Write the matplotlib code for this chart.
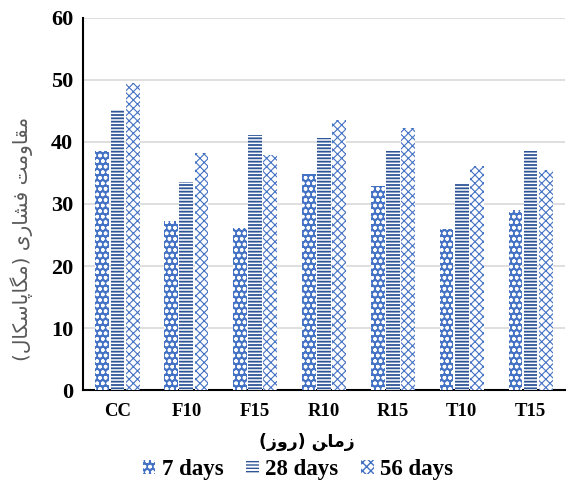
import numpy as np
import matplotlib
matplotlib.use('Agg')
import matplotlib.pyplot as plt

plt.rcParams['font.family'] = ['Liberation Serif', 'DejaVu Sans']
plt.rcParams['font.weight'] = 'bold'

categories = ['CC', 'F10', 'F15', 'R10', 'R15', 'T10', 'T15']
days_7 = [38.6, 27.3, 26.2, 34.9, 32.9, 25.9, 29.0]
days_28 = [45.2, 33.5, 41.2, 40.6, 38.5, 33.2, 38.5]
days_56 = [49.5, 38.2, 37.9, 43.5, 42.3, 36.2, 35.5]
series_names = ['7 days', '28 days', '56 days']

# persian labels in visual order (presentation forms, no shaping in matplotlib)
xlabel_fa = '(ﺯﻭﺭ) ﻦﺎﻣﺯ'
ylabel_fa = '(ﻝﺎﮑﺳﺎﭘﺎﮕﻣ) ﯼﺭﺎﺸﻓ ﺖﻣﻭﺎﻘﻣ'

fig = plt.figure(figsize=(5.69, 4.86), dpi=100)
ax = fig.add_axes([0.146, 0.1975, 0.847, 0.7655])

x = np.arange(len(categories))
w = 0.2
off = 0.22
with plt.rc_context({'hatch.linewidth': 1.0}):
    ax.bar(x - off, days_7, w, facecolor='#4472C4', edgecolor='white', hatch='ooo',
           linewidth=0, label=series_names[0], zorder=3)
with plt.rc_context({'hatch.linewidth': 1.3}):
    ax.bar(x, days_28, w, facecolor='white', edgecolor='#2F5597', hatch='-----',
           linewidth=0, label=series_names[1], zorder=3)
with plt.rc_context({'hatch.linewidth': 0.8}):
    ax.bar(x + off, days_56, w, facecolor='white', edgecolor='#4472C4', hatch='xxxx',
           linewidth=0, label=series_names[2], zorder=3)

ax.set_xlim(-0.5, len(categories) - 0.5)
ax.set_ylim(0, 60)
ax.set_yticks(range(0, 61, 10))
ax.set_xticks(x)
ax.set_xticklabels(categories)
ax.grid(axis='y', color='#d9d9d9', linewidth=1.2, zorder=0)
ax.tick_params(axis='y', length=0, pad=7, labelsize=16)
ax.tick_params(axis='x', length=0, pad=9, labelsize=13.5)
for s in ['top', 'right']:
    ax.spines[s].set_visible(False)
for s in ['left', 'bottom']:
    ax.spines[s].set_color('black')
    ax.spines[s].set_linewidth(1.5)

ax.set_xlabel(xlabel_fa, family='DejaVu Sans', fontweight='bold', fontsize=12.5)
ax.xaxis.set_label_coords(0.465, -0.116)
ax.set_ylabel(ylabel_fa, family='DejaVu Sans', fontweight='normal', fontsize=14.5,
              color='#595959')
ax.yaxis.set_label_coords(-0.104, 0.406)

fig.legend(loc='center', bbox_to_anchor=(0.524, 0.033), ncol=3, frameon=False,
           fontsize=16.5, handlelength=0.55, handleheight=0.55, handletextpad=0.28,
           columnspacing=1.0)

fig.savefig('out.png', dpi=100)
